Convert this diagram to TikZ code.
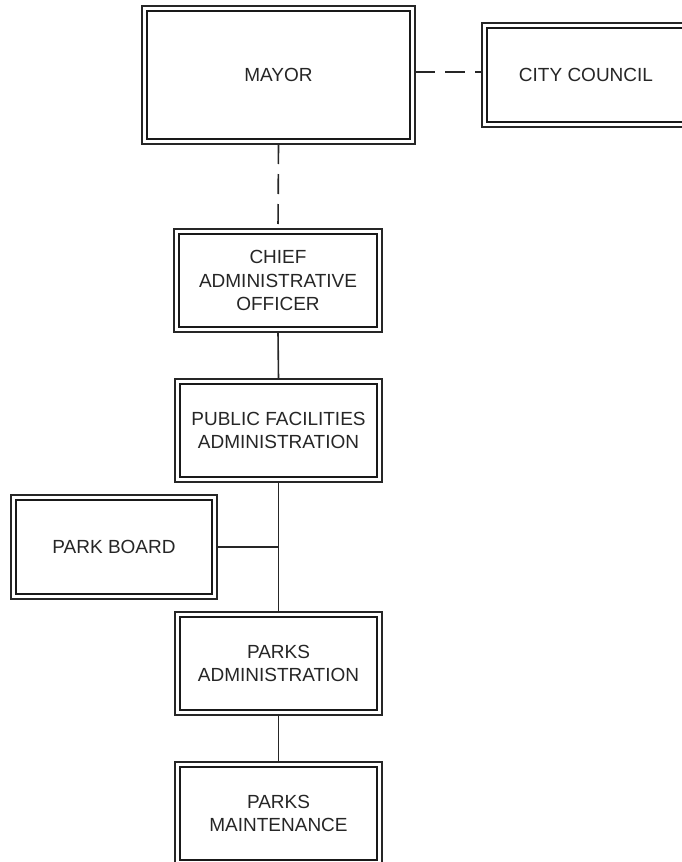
\documentclass[tikz,border=0pt]{standalone}
\usepackage{fontspec}
\setmainfont{Liberation Sans}
\begin{document}
\begin{tikzpicture}[x=1pt,y=-1pt,
  orgbox/.style={draw=black!85, line width=1.2pt, fill=white, inner sep=0pt, outer sep=0pt,
    align=center, text=black!85, font=\fontsize{19}{23.5}\selectfont},
  inbox/.style={draw=black!90, line width=1.9pt},
  conn/.style={draw=black!85, line width=1.6pt},
  dashconn/.style={conn, dash pattern=on 20pt off 10pt}]
\useasboundingbox (0,0) rectangle (682,862);
\clip (0,0) rectangle (682,862);
\node[orgbox, minimum width=273pt, minimum height=138pt] (mayor) at (278.5,75) {MAYOR};
\node[orgbox, minimum width=208pt, minimum height=104pt] (cc) at (586,75) {CITY COUNCIL};
\node[orgbox, minimum width=208pt, minimum height=103pt] (cao) at (278,280.5) {CHIEF\\ADMINISTRATIVE\\OFFICER};
\node[orgbox, minimum width=207pt, minimum height=103pt] (pfa) at (278.5,430.5) {PUBLIC FACILITIES\\ADMINISTRATION};
\node[orgbox, minimum width=206pt, minimum height=104pt] (pb) at (114,547) {PARK BOARD};
\node[orgbox, minimum width=207pt, minimum height=103pt] (pa) at (278.5,663.5) {PARKS\\ADMINISTRATION};
\node[orgbox, minimum width=207pt, minimum height=103pt] (pm) at (278.5,813.5) {PARKS\\MAINTENANCE};
\foreach \n in {mayor,cc,cao,pfa,pb,pa,pm}
  \draw[inbox] ([shift={(5,5)}]\n.north west) rectangle ([shift={(-5,-5)}]\n.south east);
\coordinate (j) at (pfa.south |- pb.east);
\draw[dashconn] ([yshift=3pt]mayor.east) -- ([yshift=3pt]cc.west);
\draw[dashconn] (mayor.south) -- (cao.north);
\draw[conn] (cao.south) -- (pfa.north);
\draw[conn] (pfa.south) -- (pa.north);
\draw[conn] (pb.east) -- (j);
\draw[conn] (pa.south) -- (pm.north);
\end{tikzpicture}
\end{document}
